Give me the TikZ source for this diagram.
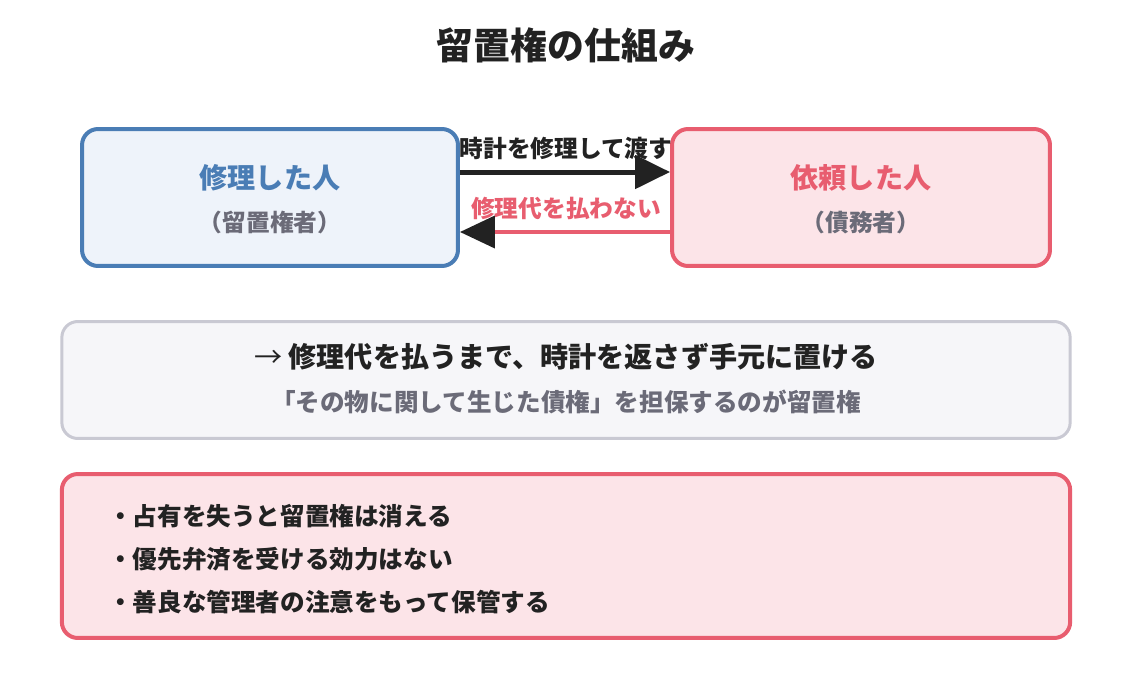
\documentclass[tikz,border=0pt]{standalone}
\usepackage{fontspec}
\setmainfont{Noto Sans CJK JP}
\usetikzlibrary{arrows.meta}

\definecolor{lienBlue}{HTML}{4A7DB5}
\definecolor{lienBlueFill}{HTML}{EEF3FA}
\definecolor{lienPink}{HTML}{E85D6F}
\definecolor{lienPinkFill}{HTML}{FCE4E8}
\definecolor{lienGray}{HTML}{C9C9D3}
\definecolor{lienGrayFill}{HTML}{F6F6F9}
\definecolor{lienText}{HTML}{222222}
\definecolor{lienSub}{HTML}{6B6B78}

\begin{document}
\begin{tikzpicture}[
    x=0.02cm, y=-0.02cm,
    every node/.style={font=\bfseries, text=lienText, inner sep=0pt},
    partybox/.style={draw, rounded corners=0.32cm, line width=0.08cm,
                     minimum height=2.74cm},
    infobox/.style={draw, rounded corners=0.32cm, minimum width=20.17cm},
    flowarrow/.style={line width=0.1cm,
                      -{Triangle[length=0.7cm, width=0.66cm]}}
  ]
  % Canvas
  \useasboundingbox[fill=white] (0,0) rectangle (1132,680);

  % Title
  \node[font=\bfseries\fontsize{21pt}{25pt}\selectfont] (title) at (566,45)
    {留置権の仕組み};

  % PARTIES
  \node[partybox, draw=lienBlue, fill=lienBlueFill, minimum width=7.52cm]
    (holder) at (270,197.5) {};
  \node[font=\bfseries\fontsize{16pt}{19pt}\selectfont, text=lienBlue]
    (holdername) at (270,178) {修理した人};
  \node[font=\bfseries\fontsize{13.5pt}{16pt}\selectfont, text=lienSub]
    (holderrole) at (270,222) {（留置権者）};

  \node[partybox, draw=lienPink, fill=lienPinkFill, minimum width=7.56cm]
    (debtor) at (861,197.5) {};
  \node[font=\bfseries\fontsize{16pt}{19pt}\selectfont, text=lienPink]
    (debtorname) at (861,178) {依頼した人};
  \node[font=\bfseries\fontsize{13.5pt}{16pt}\selectfont, text=lienSub]
    (debtorrole) at (861,222) {（債務者）};

  % ARROWS
  \draw[flowarrow, lienText] ([yshift=0.51cm]holder.east)
    -- ([yshift=0.51cm]debtor.west);
  \node[font=\bfseries\fontsize{13.5pt}{16pt}\selectfont] (handover)
    at (566,148) {時計を修理して渡す};

  \draw[line width=0.08cm, lienPink,
        -{Triangle[length=0.7cm, width=0.64cm, color=lienText]}]
    ([yshift=-0.69cm]debtor.west) -- ([yshift=-0.69cm]holder.east);
  \node[font=\bfseries\fontsize{13.5pt}{16pt}\selectfont, text=lienPink]
    (nopay) at (566,208) {修理代を払わない};

  % RESULT
  \node[infobox, draw=lienGray, fill=lienGrayFill, line width=0.06cm,
        minimum height=2.34cm] (result) at (566,380) {};
  \node[font=\bfseries\fontsize{16pt}{19pt}\selectfont] (resultmain)
    at (566,357) {{\mdseries →} 修理代を払うまで、時計を返さず手元に置ける};
  \node[font=\bfseries\fontsize{14pt}{17pt}\selectfont, text=lienSub]
    (resultsub) at (566,402) {「その物に関して生じた債権」を担保するのが留置権};

  % NOTES
  \node[infobox, draw=lienPink, fill=lienPinkFill, line width=0.08cm,
        minimum height=3.28cm] (notes) at (566,556) {};
  \node[font=\bfseries\fontsize{14pt}{17pt}\selectfont, anchor=west]
    (noteA) at (108,516) {・占有を失うと留置権は消える};
  \node[font=\bfseries\fontsize{14pt}{17pt}\selectfont, anchor=west]
    (noteB) at (108,559) {・優先弁済を受ける効力はない};
  \node[font=\bfseries\fontsize{14pt}{17pt}\selectfont, anchor=west]
    (noteC) at (108,602) {・善良な管理者の注意をもって保管する};
\end{tikzpicture}
\end{document}
